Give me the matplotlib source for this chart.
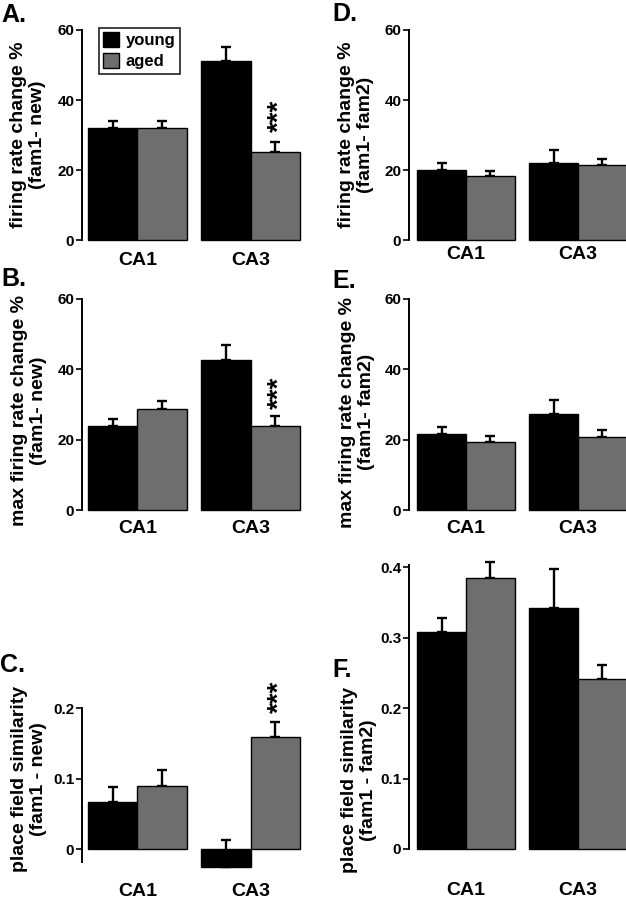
import matplotlib
matplotlib.use("Agg")
import matplotlib.pyplot as plt
from matplotlib.patches import Patch
import numpy as np

plt.rcParams['font.family'] = ['Liberation Sans', 'DejaVu Sans']
plt.rcParams['font.weight'] = 'bold'

regions = ['CA1', 'CA3']

# A. firing rate change % (fam1 - new)
a_young = [32.0, 51.0]
a_young_sem = [2.0, 4.0]
a_aged = [32.0, 25.0]
a_aged_sem = [2.0, 3.0]

# B. max firing rate change % (fam1 - new)
b_young = [24.0, 42.7]
b_young_sem = [1.9, 4.3]
b_aged = [28.6, 24.0]
b_aged_sem = [2.4, 2.8]

# C. place field similarity (fam1 - new)
c_young = [0.067, -0.025]
c_young_sem = [0.021, 0.038]
c_aged = [0.090, 0.159]
c_aged_sem = [0.022, 0.022]

# D. firing rate change % (fam1 - fam2)
d_young = [19.9, 21.9]
d_young_sem = [2.2, 3.8]
d_aged = [18.2, 21.4]
d_aged_sem = [1.5, 1.8]

# E. max firing rate change % (fam1 - fam2)
e_young = [21.7, 27.3]
e_young_sem = [1.8, 4.0]
e_aged = [19.4, 20.7]
e_aged_sem = [1.6, 2.0]

# F. place field similarity (fam1 - fam2)
f_young = [0.308, 0.342]
f_young_sem = [0.020, 0.056]
f_aged = [0.385, 0.241]
f_aged_sem = [0.022, 0.020]

pct_ticks = [0, 20, 40, 60]
sim_ticks_c = [0, 0.1, 0.2]
sim_ticks_f = [0, 0.1, 0.2, 0.3, 0.4]

GRAY = '#6e6e6e'
W = 0.435

fig = plt.figure(figsize=(6.26, 9.0), dpi=100)
W_PX, H_PX = 626, 900


def px_axes(x0, x1, ytop, ybot):
    return fig.add_axes([x0 / W_PX, 1 - ybot / H_PX, (x1 - x0) / W_PX, (ybot - ytop) / H_PX])


def draw_panel(ax, young, young_sem, aged, aged_sem, ylim, yticks, yticklabels,
               xlim, xpad, spine_bounds):
    x = np.arange(len(regions))
    ax.bar(x - W / 2, young, W, color='black', edgecolor='black', lw=1, clip_on=False, zorder=2)
    ax.bar(x + W / 2, aged, W, color=GRAY, edgecolor='black', lw=1, clip_on=False, zorder=2)
    ax.errorbar(x - W / 2, young, yerr=[np.zeros(2), young_sem], fmt='none', ecolor='black',
                elinewidth=1.7, capsize=3.4, capthick=1.7, zorder=1, clip_on=False)
    ax.errorbar(x + W / 2, aged, yerr=[np.zeros(2), aged_sem], fmt='none', ecolor='black',
                elinewidth=1.7, capsize=3.4, capthick=1.7, zorder=1, clip_on=False)
    ax.set_xlim(*xlim)
    ax.set_ylim(*ylim)
    ax.set_yticks(yticks)
    ax.set_yticklabels(yticklabels)
    ax.set_xticks(x)
    ax.set_xticklabels(regions, fontsize=14, fontweight='bold')
    ax.tick_params(axis='x', length=0, pad=xpad)
    ax.tick_params(axis='y', direction='out', length=4.5, width=1.2, labelsize=11, pad=1)
    for s in ['top', 'right', 'bottom']:
        ax.spines[s].set_visible(False)
    ax.spines['left'].set_linewidth(1.4)
    ax.spines['left'].set_bounds(*spine_bounds)
    ax.patch.set_visible(False)


def ylab(x, y, text):
    fig.text(x / W_PX, 1 - y / H_PX, text, rotation=90, ha='center', va='center',
             fontsize=14, fontweight='bold', multialignment='center', linespacing=1.15)


def letter(x, y, text):
    fig.text(x / W_PX, 1 - y / H_PX, text, ha='left', va='top', fontsize=18, fontweight='bold')


xl_left = (-0.49, 1.42)
xl_right = (-0.51, 1.43)
pct_lab = [str(t) for t in pct_ticks]

axA = px_axes(82, 298, 30, 240)
draw_panel(axA, a_young, a_young_sem, a_aged, a_aged_sem, (0, 60), pct_ticks, pct_lab,
           xl_left, 8.5, (0, 60))
axB = px_axes(82, 298, 299, 510)
draw_panel(axB, b_young, b_young_sem, b_aged, b_aged_sem, (0, 60), pct_ticks, pct_lab,
           xl_left, 7, (0, 60))
axC = px_axes(82, 298, 708.3, 861.7)
draw_panel(axC, c_young, c_young_sem, c_aged, c_aged_sem, (-0.018, 0.2), sim_ticks_c,
           ['0', '0.1', '0.2'], xl_left, 15, (-0.018, 0.2))

axD = px_axes(409, 626, 30, 240)
draw_panel(axD, d_young, d_young_sem, d_aged, d_aged_sem, (0, 60), pct_ticks, pct_lab,
           xl_right, 4.5, (0, 60))
axE = px_axes(409, 626, 299, 510)
draw_panel(axE, e_young, e_young_sem, e_aged, e_aged_sem, (0, 60), pct_ticks, pct_lab,
           xl_right, 7, (0, 60))
axF = px_axes(409, 626, 565.3, 849)
draw_panel(axF, f_young, f_young_sem, f_aged, f_aged_sem, (0, 0.403), sim_ticks_f,
           ['0', '0.1', '0.2', '0.3', '0.4'], xl_right, 24, (0, 0.403))

# significance stars above aged CA3
for ax, y in [(axA, 30.8), (axB, 28.7), (axC, 0.194)]:
    ax.text(1 + W / 2 + 0.04, y, '***', rotation=90, ha='center', va='bottom',
            fontsize=20, fontweight='bold', clip_on=False)

# y labels
ylab(28, 135, 'firing rate change %\n(fam1- new)')
ylab(29, 411, 'max firing rate change %\n(fam1- new)')
ylab(29, 779, 'place field similarity\n(fam1 - new)')
ylab(356, 135, 'firing rate change %\n(fam1- fam2)')
ylab(357, 412, 'max firing rate change %\n(fam1- fam2)')
ylab(359, 780, 'place field similarity\n(fam1 - fam2)')

# panel letters
letter(1, 3, 'A.')
letter(1, 267, 'B.')
letter(0, 653, 'C.')
letter(332, 2, 'D.')
letter(332, 269, 'E.')
letter(332, 658, 'F.')

handles = [Patch(facecolor='black', edgecolor='black', label='young'),
           Patch(facecolor=GRAY, edgecolor='black', label='aged')]
leg = fig.legend(handles=handles, loc='upper left', bbox_to_anchor=(98.5 / W_PX, 1 - 28 / H_PX),
                 prop={'weight': 'bold', 'size': 12}, frameon=True, fancybox=False,
                 handlelength=1.0, handleheight=1.0, handletextpad=0.4, labelspacing=0.3,
                 borderpad=0.25, borderaxespad=0)
leg.get_frame().set_edgecolor('black')
leg.get_frame().set_linewidth(1.3)

fig.savefig('out.png', dpi=100)
